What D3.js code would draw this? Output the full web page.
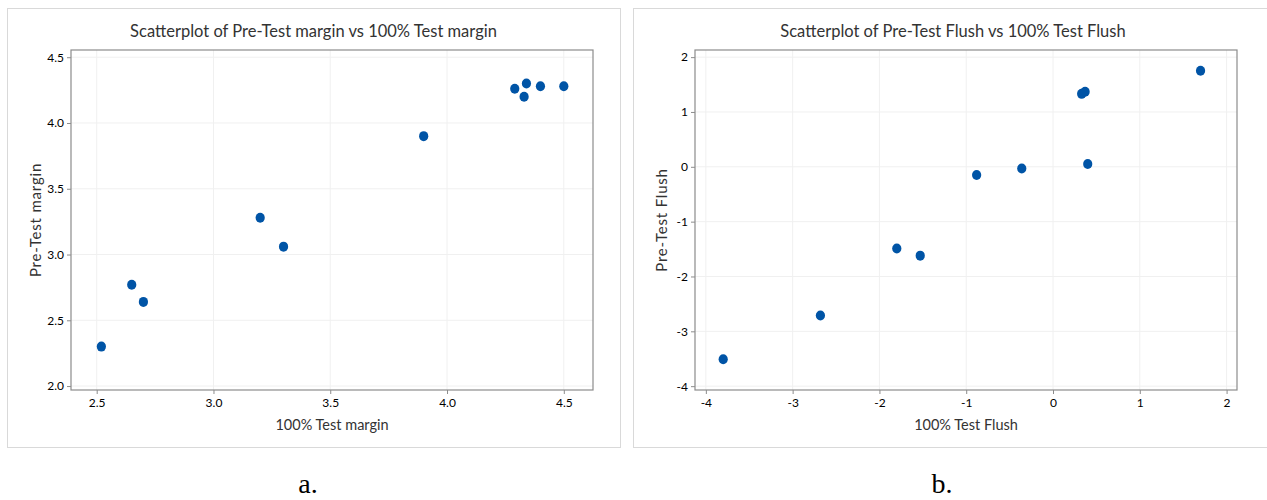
<!DOCTYPE html>
<html>
<head>
<meta charset="utf-8">
<script src="https://cdn.jsdelivr.net/npm/d3@7"></script>
<style>
  body { margin: 0; background: #fff; }
  text { font-family: Lato, "Open Sans", sans-serif; }
</style>
</head>
<body>
<div id="chart-area"></div>
<script>
// panel a: margin
var marginX = [2.52, 2.65, 2.70, 3.20, 3.30, 3.90, 4.29, 4.33, 4.34, 4.40, 4.50];
var marginY = [2.30, 2.77, 2.64, 3.28, 3.06, 3.90, 4.26, 4.20, 4.30, 4.28, 4.28];
var marginXTicks = [2.5, 3.0, 3.5, 4.0, 4.5];
var marginYTicks = [2.0, 2.5, 3.0, 3.5, 4.0, 4.5];

// panel b: flush
var flushX = [-3.80, -2.68, -1.80, -1.53, -0.88, -0.36, 0.33, 0.37, 0.40, 1.70];
var flushY = [-3.51, -2.71, -1.49, -1.62, -0.15, -0.03, 1.33, 1.37, 0.05, 1.75];
var flushXTicks = [-4, -3, -2, -1, 0, 1, 2];
var flushYTicks = [-4, -3, -2, -1, 0, 1, 2];

var svg = d3.select("#chart-area").append("svg")
    .attr("width", 1267)
    .attr("height", 500);

// minitab writes a plain hyphen for negatives
function hyphen(f) {
    return function(d) { return f(d).replace("\u2212", "-"); };
}

function drawPanel(opts) {
    var g = svg.append("g");

    // outer frame
    g.append("rect")
        .attr("x", opts.box[0] + 0.5)
        .attr("y", opts.box[1] + 0.5)
        .attr("width", opts.box[2])
        .attr("height", opts.box[3])
        .attr("fill", "none")
        .attr("stroke", "#d9d9d9")
        .attr("stroke-width", 1);

    var x = d3.scaleLinear().domain(opts.xDomain).range([opts.left, opts.right]);
    var y = d3.scaleLinear().domain(opts.yDomain).range([opts.bottom, opts.top]);

    // gridlines
    g.selectAll(".vgrid").data(opts.xTicks).enter().append("line")
        .attr("x1", function(d) { return x(d); })
        .attr("x2", function(d) { return x(d); })
        .attr("y1", opts.top)
        .attr("y2", opts.bottom)
        .attr("stroke", "#f0f0f0");
    g.selectAll(".hgrid").data(opts.yTicks).enter().append("line")
        .attr("x1", opts.left)
        .attr("x2", opts.right)
        .attr("y1", function(d) { return y(d); })
        .attr("y2", function(d) { return y(d); })
        .attr("stroke", "#f0f0f0");

    // plot frame
    g.append("rect")
        .attr("x", opts.left)
        .attr("y", opts.top)
        .attr("width", opts.right - opts.left)
        .attr("height", opts.bottom - opts.top)
        .attr("fill", "none")
        .attr("stroke", "#8c8c8c")
        .attr("stroke-width", 1.2);

    // axes
    var xAxis = g.append("g")
        .attr("transform", "translate(0," + opts.bottom + ")")
        .call(d3.axisBottom(x).tickValues(opts.xTicks).tickFormat(hyphen(opts.fmt)).tickSize(4).tickPadding(4));
    var yAxis = g.append("g")
        .attr("transform", "translate(" + opts.left + ",0)")
        .call(d3.axisLeft(y).tickValues(opts.yTicks).tickFormat(hyphen(opts.fmt)).tickSize(4).tickPadding(3));
    [xAxis, yAxis].forEach(function(a) {
        a.select(".domain").remove();
        a.selectAll("line").attr("stroke", "#8c8c8c");
        a.selectAll("text")
            .attr("fill", "#000")
            .style("font-family", "Lato, sans-serif")
            .style("font-size", "12px");
    });

    // points
    g.selectAll(".dot").data(opts.xs).enter().append("ellipse")
        .attr("cx", function(d) { return x(d); })
        .attr("cy", function(d, i) { return y(opts.ys[i]); })
        .attr("rx", 4.6)
        .attr("ry", 5)
        .attr("fill", "#0054a6");

    // title
    g.append("text")
        .attr("x", opts.box[0] + opts.box[2] / 2)
        .attr("y", 37)
        .attr("text-anchor", "middle")
        .attr("fill", "#333")
        .style("font-size", "16.5px")
        .text(opts.title);

    // axis titles
    g.append("text")
        .attr("x", (opts.left + opts.right) / 2)
        .attr("y", 430)
        .attr("text-anchor", "middle")
        .attr("fill", "#333")
        .style("font-size", "14.5px")
        .text(opts.xLabel);

    g.append("text")
        .attr("transform", "translate(" + opts.yLabelX + "," + ((opts.top + opts.bottom) / 2) + ") rotate(-90)")
        .attr("text-anchor", "middle")
        .attr("fill", "#333")
        .style("font-size", "15px")
        .style("letter-spacing", "0.8px")
        .text(opts.yLabel);

    // caption
    g.append("text")
        .attr("x", opts.captionX)
        .attr("y", 493)
        .attr("text-anchor", "middle")
        .attr("fill", "#000")
        .style("font-family", "'Liberation Serif', 'Times New Roman', serif")
        .style("font-size", "28px")
        .text(opts.caption);
}

drawPanel({
    box: [7, 8, 613, 439],
    left: 71, right: 593, top: 50, bottom: 390,
    xDomain: [2.39, 4.625], yDomain: [1.97, 4.555],
    xTicks: marginXTicks, yTicks: marginYTicks,
    fmt: d3.format(".1f"),
    xs: marginX, ys: marginY,
    title: "Scatterplot of Pre-Test margin vs 100% Test margin",
    xLabel: "100% Test margin",
    yLabel: "Pre-Test margin",
    yLabelX: 41,
    caption: "a.", captionX: 308
});

drawPanel({
    box: [633, 8, 640, 439],
    left: 695, right: 1237, top: 50, bottom: 390,
    xDomain: [-4.125, 2.12], yDomain: [-4.07, 2.13],
    xTicks: flushXTicks, yTicks: flushYTicks,
    fmt: d3.format("d"),
    xs: flushX, ys: flushY,
    title: "Scatterplot of Pre-Test Flush vs 100% Test Flush",
    xLabel: "100% Test Flush",
    yLabel: "Pre-Test Flush",
    yLabelX: 667,
    caption: "b.", captionX: 942
});
</script>
</body>
</html>
